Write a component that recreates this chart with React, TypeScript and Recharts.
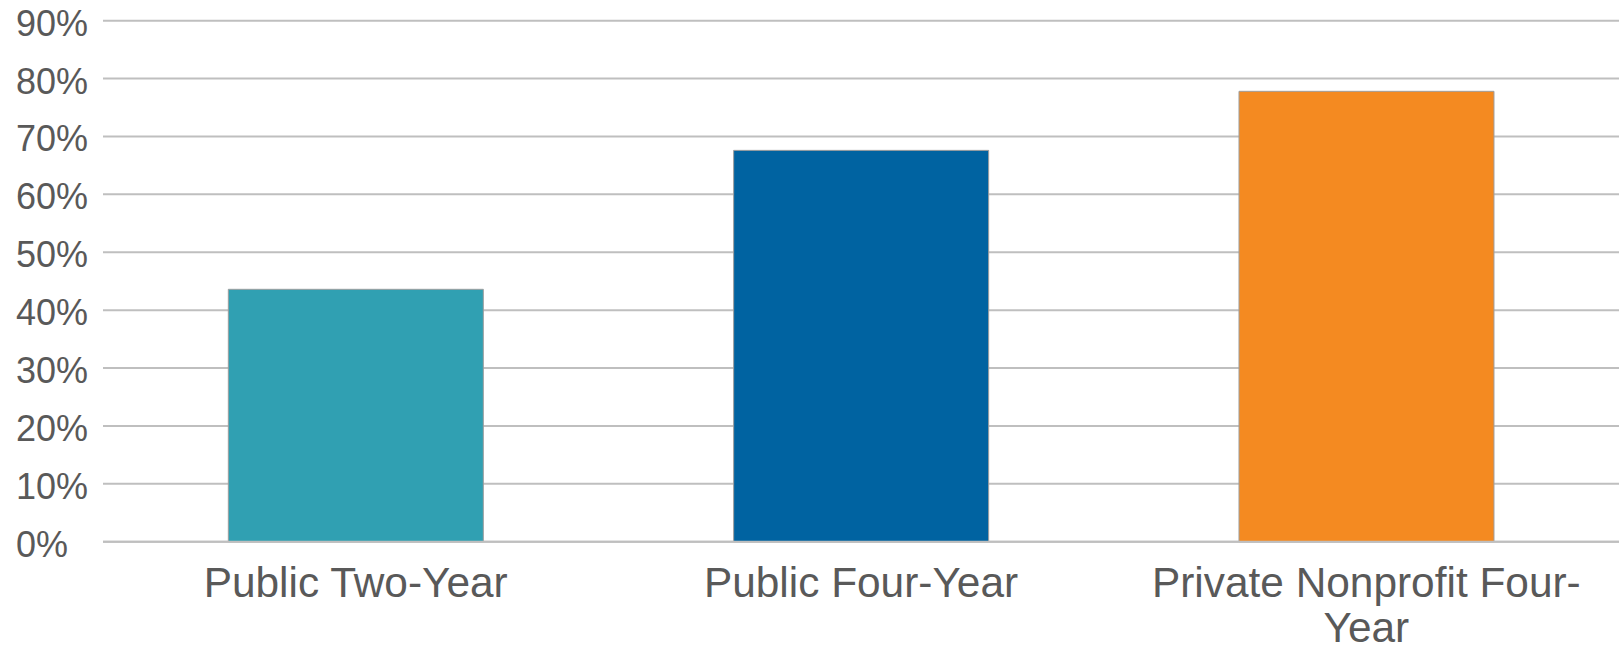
import React from "react";
import { BarChart, Bar, XAxis, YAxis, CartesianGrid, Cell } from "recharts";

const categories = ["Public Two-Year", "Public Four-Year", "Private Nonprofit Four-Year"];
const values = [43.6, 67.6, 77.8];
const colors = ["#30A0B2", "#0063A1", "#F48A21"];
const yTicks = [0, 10, 20, 30, 40, 50, 60, 70, 80, 90];

const data = categories.map((name, i) => ({ name, value: values[i] }));

const FONT = "'Liberation Sans', Arial, sans-serif";
const TEXT = "#595959";
const GRID = "#BFBFBF";

function wrapLabel(label: string): string[] {
  if (label.length > 20) {
    const idx = label.lastIndexOf("-");
    if (idx > 0) return [label.slice(0, idx + 1), label.slice(idx + 1)];
  }
  return [label];
}

const XTick = (props: any) => {
  const { x, y, payload } = props;
  const lines = wrapLabel(String(payload.value));
  return (
    <g>
      {lines.map((l, i) => (
        <text
          key={i}
          x={x}
          y={y + 55 + i * 45}
          textAnchor="middle"
          fontFamily={FONT}
          fontSize={42.4}
          fill={TEXT}
        >
          {l}
        </text>
      ))}
    </g>
  );
};

const YTick = (props: any) => {
  const { y, payload } = props;
  return (
    <text x={16} y={y + 15} textAnchor="start" fontFamily={FONT} fontSize={36} fill={TEXT}>
      {`${payload.value}%`}
    </text>
  );
};

export default function App() {
  return (
    <div style={{ position: "absolute", left: 0, top: 0, background: "#fff" }}>
      <BarChart
        width={1620}
        height={647}
        data={data}
        margin={{ top: 20.7, right: 1, left: 0, bottom: 0 }}
        barCategoryGap="24.8%"
      >
        <CartesianGrid vertical={false} stroke={GRID} strokeWidth={2} />
        <XAxis
          dataKey="name"
          height={105.3}
          tickLine={false}
          tickSize={0}
          tickMargin={0}
          axisLine={{ stroke: GRID, strokeWidth: 2 }}
          tick={<XTick />}
          interval={0}
        />
        <YAxis
          width={103}
          domain={[0, 90]}
          ticks={yTicks}
          axisLine={false}
          tickLine={false}
          tick={<YTick />}
          interval={0}
        />
        <Bar dataKey="value" isAnimationActive={false} stroke="#9E9E9E" strokeWidth={1}>
          {data.map((d, i) => (
            <Cell key={d.name} fill={colors[i]} />
          ))}
        </Bar>
      </BarChart>
    </div>
  );
}
